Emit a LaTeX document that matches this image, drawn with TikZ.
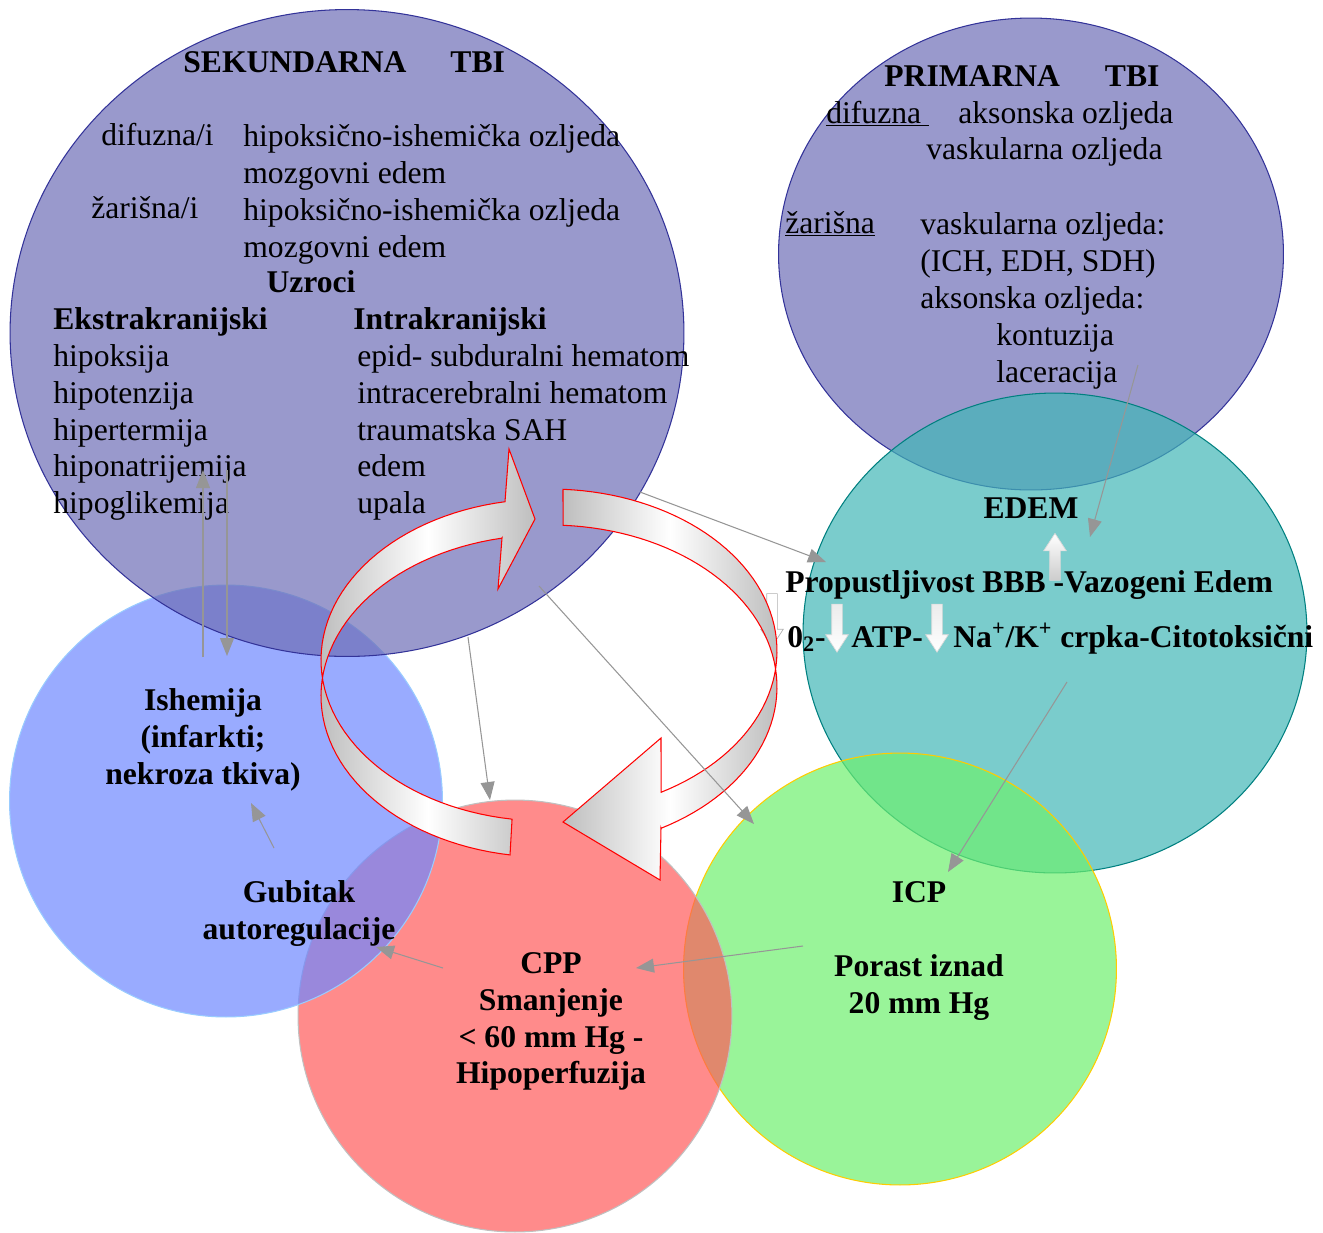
\documentclass[tikz,border=0pt]{standalone}
\usepackage{fontspec}
\setmainfont{Liberation Serif}
\usetikzlibrary{shapes.geometric,shapes.arrows,arrows.meta}

\definecolor{ljubicasta}{RGB}{110,110,182}
\definecolor{tamnoplava}{RGB}{51,51,153}
\definecolor{tirkizna}{RGB}{65,182,182}
\definecolor{tirkiznarub}{RGB}{0,128,128}
\definecolor{zelena}{RGB}{110,240,110}
\definecolor{zutirub}{RGB}{255,204,0}
\definecolor{crvena}{RGB}{255,90,90}
\definecolor{sivirub}{RGB}{192,192,192}
\definecolor{plava}{RGB}{110,135,255}
\definecolor{plavirub}{RGB}{153,204,255}
\definecolor{vezasiva}{RGB}{150,150,150}
\definecolor{sjena}{RGB}{190,190,190}

\begin{document}
\begin{tikzpicture}
	[x=0.02cm, y=-0.02cm,
	every node/.style={inner sep=0pt, font=\fontsize{18}{21}\selectfont},
	krug/.style={ellipse, line width=0.6pt, fill opacity=0.7},
	masno/.style={font=\fontsize{18}{21}\selectfont\bfseries},
	popis/.style={anchor=north west, align=left},
	veza/.style={draw=vezasiva, line width=0.6pt, -{Triangle[length=0.36cm,width=0.28cm]}},
	bijela/.style={single arrow, inner sep=0.1cm, single arrow head extend=0.12cm, single arrow head indent=0pt,
		single arrow tip angle=66, minimum width=0.44cm, draw=gray!30},
	kruzna/.style={draw=red, line width=0.6pt, left color=sjena, right color=sjena, middle color=white}]
	\useasboundingbox (0,0) rectangle (1323,1232);
	% krugovi
	\node (prim) [krug, fill=ljubicasta, draw=tamnoplava, minimum width=10.1cm, minimum height=9.44cm] at (1031,254) {};
	\node (edem) [krug, fill=tirkizna, draw=tirkiznarub, minimum width=10.08cm, minimum height=9.6cm] at (1055,633) {};
	\node (icp) [krug, fill=zelena, draw=zutirub, minimum width=8.66cm, minimum height=8.64cm] at (900,969) {};
	\node (cpp) [krug, fill=crvena, draw=sivirub, minimum width=8.68cm, minimum height=8.64cm] at (515,1016) {};
	\node (ishem) [krug, fill=plava, draw=plavirub, minimum width=8.66cm, minimum height=8.64cm] at (226,801) {};
	\node (sek) [krug, fill=ljubicasta, draw=tamnoplava, minimum width=13.48cm, minimum height=12.94cm] at (347,333) {};
	\node (siva) [bijela, shape border rotate=270, minimum height=1.06cm, draw=gray!60, fill=white, fill opacity=0.6] at (772,616) {};
	% kruzne strelice
	\path[kruzna] (509,449) -- (535,519) -- (498,589) -- (502,538)
		-- plot[variable=\t, domain=258.7:99.2, samples=60] ({546+225*cos(\t)}, {696+161*sin(\t)})
		-- (512,820)
		-- plot[variable=\t, domain=98.7:259.5, samples=60] ({546+225*cos(\t)}, {660+161*sin(\t)})
		-- cycle;
	\path[kruzna] (563,490)
		-- plot[variable=\t, domain=273.3:420.7, samples=60] ({550+227*cos(\t)}, {651+162*sin(\t)})
		-- (661,738) -- (563,822) -- (660,880) -- (661,828)
		-- plot[variable=\t, domain=420.7:273.3, samples=60] ({550+227*cos(\t)}, {687+162*sin(\t)})
		-- cycle;
	% SEKUNDARNA
	\node (naslovsek) [masno, anchor=base west] at (183,72) {SEKUNDARNA\hspace{0.88cm}TBI};
	\node (difuzna) [anchor=base west] at (101,145) {difuzna/i};
	\node (zarisna) [anchor=base west] at (91,218) {žarišna/i};
	\node (sekopis) [popis] at (243,124) {hipoksično-ishemička ozljeda\\mozgovni edem\\hipoksično-ishemička ozljeda\\mozgovni edem};
	\node (uzroci) [masno, anchor=base] at (311,292) {Uzroci};
	\node (ekstra) [masno, anchor=base west] at (53,329) {Ekstrakranijski};
	\node (intra) [masno, anchor=base west] at (353,329) {Intrakranijski};
	\node (ekstrapopis) [popis] at (53,344) {hipoksija\\hipotenzija\\hipertermija\\hiponatrijemija\\hipoglikemija};
	\node (intrapopis) [popis] at (357,344) {epid- subduralni hematom\\intracerebralni hematom\\traumatska SAH\\edem\\upala};
	% PRIMARNA
	\node (naslovprim) [masno, anchor=base west] at (884,86) {PRIMARNA\hspace{0.9cm}TBI};
	\node (primdif) [anchor=base west] at (826,123) {\underline{difuzna~}};
	\node (primaks) [anchor=base west] at (958,123) {aksonska ozljeda};
	\node (primvask) [anchor=base west] at (926,159) {vaskularna ozljeda};
	\node (primzar) [anchor=base west] at (785,233) {\underline{žarišna}};
	\node (primzaropis) [popis] at (920,212) {vaskularna ozljeda:\\(ICH, EDH, SDH)\\aksonska ozljeda:};
	\node (primkont) [popis] at (996,323) {kontuzija\\laceracija};
	% EDEM
	\node (edemnaslov) [masno, anchor=base] at (1031,518) {EDEM};
	\node (bbb) [masno, anchor=base west] at (785,592) {Propustljivost BBB -Vazogeni Edem};
	\node (o2) [masno, anchor=base west] at (787,647) {0\textsubscript{2}-};
	\node (atp) [masno, anchor=base west] at (851,647) {ATP-};
	\node (nak) [masno, anchor=base west] at (953,647) {Na\textsuperscript{+}/K\textsuperscript{+} crpka-Citotoksični};
	\node (gore) [bijela, shape border rotate=90, minimum height=0.94cm, top color=white, bottom color=gray!40] at (1055,561) {};
	\node (dolje1) [bijela, shape border rotate=270, minimum height=0.96cm, top color=gray!15, bottom color=white] at (837,624) {};
	\node (dolje2) [bijela, shape border rotate=270, minimum height=0.96cm, top color=gray!15, bottom color=white] at (937,624) {};
	% ostali krugovi
	\node (ishemtekst) [masno, anchor=north, align=center] at (203,688) {Ishemija\\(infarkti;\\nekroza tkiva)};
	\node (gubitak) [masno, anchor=north, align=center] at (299,880) {Gubitak\\autoregulacije};
	\node (cpptekst) [masno, anchor=north, align=center] at (551,952) {CPP\\Smanjenje\\< 60 mm Hg -\\Hipoperfuzija};
	\node (icpnaslov) [masno, anchor=base] at (919,902) {ICP};
	\node (icptekst) [masno, anchor=north, align=center] at (919,954) {Porast iznad\\20 mm Hg};
	% veze
	\coordinate (v1) at (640,492);  \coordinate (v1k) at (826,562);
	\coordinate (v2) at (1138,365); \coordinate (v2k) at (1090,537);
	\coordinate (v3) at (1067,682); \coordinate (v3k) at (948,872);
	\coordinate (v4) at (803,946);  \coordinate (v4k) at (636,968);
	\coordinate (v5) at (443,968);  \coordinate (v5k) at (376,947);
	\coordinate (v6) at (274,848);  \coordinate (v6k) at (251,803);
	\coordinate (v7) at (203,657);  \coordinate (v7k) at (203,470);
	\coordinate (v8) at (227,470);  \coordinate (v8k) at (227,656);
	\coordinate (v9) at (468,637);  \coordinate (v9k) at (490,800);
	\coordinate (v10) at (539,586); \coordinate (v10k) at (754,824);
	\draw [veza] (v1) -- (v1k);
	\draw [veza] (v2) -- (v2k);
	\draw [veza] (v3) -- (v3k);
	\draw [veza] (v4) -- (v4k);
	\draw [veza] (v5) -- (v5k);
	\draw [veza] (v6) -- (v6k);
	\draw [veza] (v7) -- (v7k);
	\draw [veza] (v8) -- (v8k);
	\draw [veza] (v9) -- (v9k);
	\draw [veza] (v10) -- (v10k);
\end{tikzpicture}
\end{document}
